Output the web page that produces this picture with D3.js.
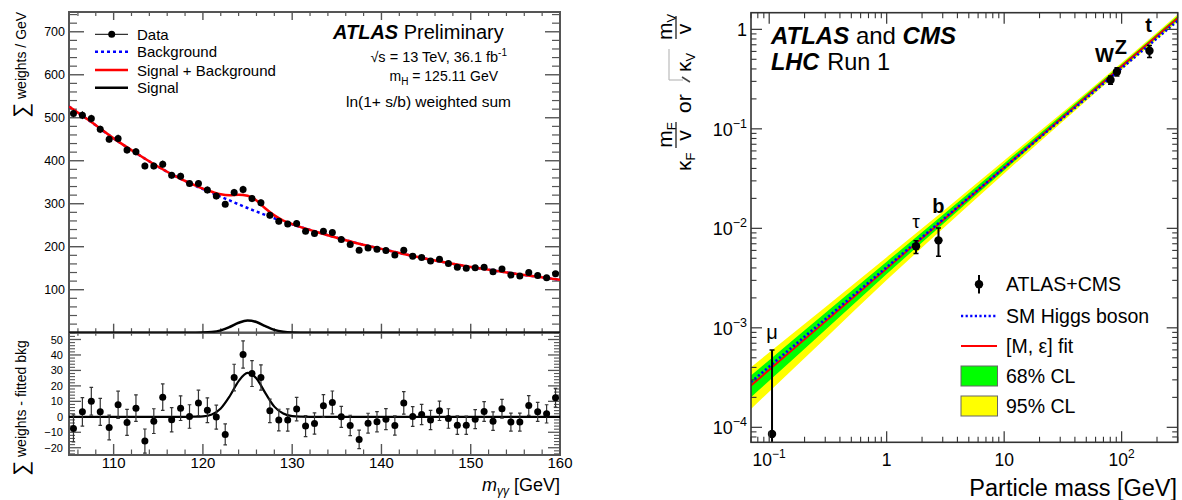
<!DOCTYPE html>
<html>
<head>
<meta charset="utf-8">
<script src="https://cdn.jsdelivr.net/npm/d3@7"></script>
<style>
  html, body { margin: 0; padding: 0; background: #fff; }
  svg text { font-family: "Liberation Sans", Arial, Helvetica, sans-serif; fill: #000; }
</style>
</head>
<body>
<svg id="chart" width="1182" height="500"></svg>
<script>
// ---------------- Left: diphoton mass spectrum ----------------
const binCenters = [105.5,106.5,107.5,108.5,109.5,110.5,111.5,112.5,113.5,114.5,
  115.5,116.5,117.5,118.5,119.5,120.5,121.5,122.5,123.5,124.5,
  125.5,126.5,127.5,128.5,129.5,130.5,131.5,132.5,133.5,134.5,
  135.5,136.5,137.5,138.5,139.5,140.5,141.5,142.5,143.5,144.5,
  145.5,146.5,147.5,148.5,149.5,150.5,151.5,152.5,153.5,154.5,
  155.5,156.5,157.5,158.5,159.5];
const dataWeights = [510,506,498,473,450,452,425,421,388,388,
  392,366,364,347,347,332,318,299,326,333,
  312,302,273,259,253,254,236,231,236,233,
  217,205,192,197,194,191,181,192,178,175,
  167,171,161,152,150,151,152,142,148,134,
  132,140,133,128,137];
const residuals = [-7.5,3.2,10.1,3.2,-6.9,7.8,-3.6,5.6,-15.7,-2.8,
  12.7,-1.9,5.6,0.2,9.0,4.3,-0.2,-11.4,25.4,40.3,
  28.0,25.4,3.9,-2.1,-2.1,5.0,-6.0,-4.3,7.1,9.3,
  0.0,-5.6,-14.6,-4.1,-3.2,-1.5,-5.6,9.0,0.2,1.5,
  -2.1,3.9,-1.1,-5.4,-5.4,-1.5,3.4,-2.8,5.2,-3.4,
  -3.4,7.3,3.2,1.9,12.3];
const residualErrors = [8.8,9.2,9.0,8.7,8.0,8.8,8.4,8.6,7.8,8.0,
  8.6,7.9,8.0,7.6,8.2,8.0,7.8,6.8,8.6,8.8,
  8.4,8.2,7.6,7.0,7.2,7.6,6.8,6.9,7.3,7.4,
  6.8,6.6,6.0,6.4,6.5,6.8,6.2,7.3,6.4,6.5,
  6.2,6.3,6.3,6.0,5.9,6.1,6.4,6.0,6.1,5.8,
  5.8,6.4,6.2,5.9,6.1];
const bkgMass   = [105,107.5,110,112.5,115,117.5,120,122.5,125,127.5,130,132.5,135,137.5,140,142.5,145,147.5,150,152.5,155,157.5,160];
const bkgValues = [526,490,452,418,386,358,334,312,290,270,252,236,221,207,195,183,172,162,153,145,137,130,123];
const sbMass    = [105,107.5,110,112.5,115,117.5,119,120,121,122,123,124,125,126,127,128,129,130,132.5,135,137.5,140,142.5,145,147.5,150,152.5,155,157.5,160];
const sbValues  = [526,490,452,418,386,358,344,335,328,322,320,321,318.5,307.5,289,273,261,252.5,236,221,207,195,183,172,162,153,145,137,130,123];
const sigMass   = [105,118,119,120,121,122,123,124,125,126,127,128,129,130,131,132,160];
const sigValues = [0,0,0.1,0.3,1.5,5.4,13.3,23.1,28.4,24.8,15.3,6.6,2.1,0.45,0.1,0,0];
const mainYTicks = [100,200,300,400,500,600,700];
const resYTicks  = [-20,-10,0,10,20,30,40,50];
const massTicks  = [110,120,130,140,150,160];
const legendLabels = ["Data","Background","Signal + Background","Signal"];

// ---------------- Right: coupling vs particle mass ----------------
const particles      = ["μ","τ","b","W","Z","t"];
const particleMass   = [0.1057,1.777,2.76,80.4,91.19,172.5];
const couplingValue  = [8.57e-5,6.6e-3,7.57e-3,0.31,0.375,0.61];
const couplingLow    = [1e-5,5.57e-3,5.24e-3,0.28,0.34,0.52];
const couplingHigh   = [6.0e-4,7.52e-3,1.01e-2,0.34,0.41,0.69];
const smMass   = [0.07,300];
const smValues = [2.85e-4,1.22];
const bandMass   = [0.07,0.3,1,3,10,30,100,300];
const fitValues  = [2.63e-4,1.156e-3,3.94e-3,1.20e-2,4.09e-2,0.125,0.426,1.30];
const band95Low  = [1.53e-4,7.82e-4,3.02e-3,9.89e-3,3.56e-2,0.1127,0.393,1.20];
const band95High = [4.02e-4,1.61e-3,5.13e-3,1.48e-2,4.81e-2,0.140,0.461,1.41];
const band68Low  = [2.01e-4,9.51e-4,3.47e-3,1.10e-2,3.82e-2,0.1189,0.406,1.24];
const band68High = [3.32e-4,1.41e-3,4.62e-3,1.36e-2,4.49e-2,0.134,0.446,1.36];
const massLogTicks = [[0.1,"10","−1"],[1,"1",""],[10,"10",""],[100,"10","2"]];
const couplingLogTicks = [[1e-4,"10","−4"],[1e-3,"10","−3"],[1e-2,"10","−2"],[1e-1,"10","−1"],[1,"1",""]];
const rightLegendLabels = ["ATLAS+CMS","SM Higgs boson","[M, ε] fit","68% CL","95% CL"];

const svg = d3.select("#chart");
const defs = svg.append("defs");

// ================= left panel =================
const L = {x0: 69, x1: 560, top: 12, mid: 332.7, bot: 455};
const xL = d3.scaleLinear().domain([105, 160]).range([L.x0, L.x1]);
const yMain = d3.scaleLinear().domain([0, 746]).range([L.mid, L.top]);
const yRes = d3.scaleLinear().domain([-24.7, 54.4]).range([L.bot, L.mid]);

defs.append("clipPath").attr("id", "clipMain").append("rect")
  .attr("x", L.x0).attr("y", L.top).attr("width", L.x1 - L.x0).attr("height", L.mid - L.top);
defs.append("clipPath").attr("id", "clipRes").append("rect")
  .attr("x", L.x0).attr("y", L.mid).attr("width", L.x1 - L.x0).attr("height", L.bot - L.mid);

const axisCol = "#555";
const left = svg.append("g");

function tickSet(g, vals, fn, len, col, w) {
  g.selectAll(null).data(vals).enter().append("line")
    .attr("stroke", col).attr("stroke-width", w)
    .each(function (d) { const c = fn(d, len); d3.select(this).attr("x1", c[0]).attr("y1", c[1]).attr("x2", c[2]).attr("y2", c[3]); });
}
const range = (a, b, s) => d3.range(a, b + s / 2, s);

// main panel y ticks (left and right)
const mainMinor = range(20, 740, 20).filter(v => v % 100 !== 0);
tickSet(left, mainYTicks, (v, l) => [L.x0, yMain(v), L.x0 + l, yMain(v)], 15, axisCol, 1.4);
tickSet(left, mainMinor, (v, l) => [L.x0, yMain(v), L.x0 + l, yMain(v)], 8, axisCol, 1.2);
tickSet(left, mainYTicks, (v, l) => [L.x1, yMain(v), L.x1 - l, yMain(v)], 15, axisCol, 1.4);
tickSet(left, mainMinor, (v, l) => [L.x1, yMain(v), L.x1 - l, yMain(v)], 8, axisCol, 1.2);
// residual panel y ticks
const resMinor = range(-24, 54, 2).filter(v => v % 10 !== 0);
tickSet(left, resYTicks, (v, l) => [L.x0, yRes(v), L.x0 + l, yRes(v)], 12, axisCol, 1.3);
tickSet(left, resMinor, (v, l) => [L.x0, yRes(v), L.x0 + l, yRes(v)], 6, axisCol, 1.1);
tickSet(left, resYTicks, (v, l) => [L.x1, yRes(v), L.x1 - l, yRes(v)], 12, axisCol, 1.3);
tickSet(left, resMinor, (v, l) => [L.x1, yRes(v), L.x1 - l, yRes(v)], 6, axisCol, 1.1);
// mass ticks on top, middle and bottom
const massMinor = range(106, 158, 2).filter(v => v % 10 !== 0);
[[L.top, 1, 8, 4], [L.mid, -1, 9, 4.5], [L.mid, 1, 6, 3], [L.bot, -1, 11, 5.5]].forEach(([y0, dir, maj, mn]) => {
  tickSet(left, massTicks, (v, l) => [xL(v), y0, xL(v), y0 + dir * l], maj, axisCol, 1.4);
  tickSet(left, massMinor, (v, l) => [xL(v), y0, xL(v), y0 + dir * l], mn, axisCol, 1.2);
});

// frames
left.append("rect").attr("x", L.x0).attr("y", L.top).attr("width", L.x1 - L.x0).attr("height", L.mid - L.top)
  .attr("fill", "none").attr("stroke", axisCol).attr("stroke-width", 2);
left.append("rect").attr("x", L.x0).attr("y", L.mid).attr("width", L.x1 - L.x0).attr("height", L.bot - L.mid)
  .attr("fill", "none").attr("stroke", axisCol).attr("stroke-width", 2);

// tick labels
left.selectAll(null).data(mainYTicks).enter().append("text")
  .attr("x", 65).attr("y", d => yMain(d) + 4.5).attr("text-anchor", "end")
  .attr("font-size", 12.5).attr("fill", "#222").text(d => d);
left.selectAll(null).data(resYTicks).enter().append("text")
  .attr("x", 63).attr("y", d => yRes(d) + 4).attr("text-anchor", "end")
  .attr("font-size", 11).attr("fill", "#222").text(d => d < 0 ? "−" + (-d) : d);
left.selectAll(null).data(massTicks).enter().append("text")
  .attr("x", d => xL(d)).attr("y", 468).attr("text-anchor", "middle")
  .attr("font-size", 15).attr("fill", "#222").text(d => d);

// x title
const xt = left.append("text").attr("x", 560).attr("y", 491).attr("text-anchor", "end").attr("font-size", 18);
xt.append("tspan").attr("font-style", "italic").text("m");
xt.append("tspan").attr("font-style", "italic").attr("font-size", 12).attr("dy", 4).text("γγ");
xt.append("tspan").attr("dy", -4).text(" [GeV]");

// y titles
function sumTitle(x, y, label) {
  const g = left.append("g").attr("transform", `translate(${x},${y}) rotate(-90)`);
  g.append("text").attr("x", 0).attr("y", 2).attr("font-size", 21).attr("font-family", "DejaVu Sans").text("∑");
  g.append("text").attr("x", 19).attr("y", 0).attr("font-size", 14).attr("fill", "#222").text(label);
}
sumTitle(26, 118, "weights / GeV");
sumTitle(26, 476, "weights - fitted bkg");

// curves
const lineL = (ys) => d3.line().x(d => xL(d[0])).y(d => ys(d[1])).curve(d3.curveMonotoneX);
const mainG = left.append("g").attr("clip-path", "url(#clipMain)");
mainG.append("path").datum(d3.zip(bkgMass, bkgValues)).attr("d", lineL(yMain))
  .attr("fill", "none").attr("stroke", "#0000ff").attr("stroke-width", 2.5).attr("stroke-dasharray", "3,3");
mainG.append("path").datum(d3.zip(sbMass, sbValues)).attr("d", lineL(yMain))
  .attr("fill", "none").attr("stroke", "#ff0000").attr("stroke-width", 2.5);
mainG.append("path").datum(d3.zip(sigMass, sigValues)).attr("d", lineL(yMain))
  .attr("fill", "none").attr("stroke", "#000").attr("stroke-width", 2.5);
mainG.selectAll(null).data(d3.zip(binCenters, dataWeights, residualErrors)).enter().append("line")
  .attr("x1", d => xL(d[0])).attr("x2", d => xL(d[0]))
  .attr("y1", d => yMain(d[1] - d[2])).attr("y2", d => yMain(d[1] + d[2]))
  .attr("stroke", "#000").attr("stroke-width", 1);
mainG.selectAll(null).data(d3.zip(binCenters, dataWeights)).enter().append("circle")
  .attr("cx", d => xL(d[0])).attr("cy", d => yMain(d[1])).attr("r", 3.5).attr("fill", "#000");

const resG = left.append("g").attr("clip-path", "url(#clipRes)");
resG.append("path").datum(d3.zip(sigMass, sigValues)).attr("d", lineL(yRes))
  .attr("fill", "none").attr("stroke", "#000").attr("stroke-width", 2.2);
const resData = d3.zip(binCenters, residuals, residualErrors);
resG.selectAll(null).data(resData).enter().append("line")
  .attr("x1", d => xL(d[0])).attr("x2", d => xL(d[0]))
  .attr("y1", d => yRes(d[1] - d[2])).attr("y2", d => yRes(d[1] + d[2]))
  .attr("stroke", "#333").attr("stroke-width", 1.2);
[-1, 1].forEach(s => {
  resG.selectAll(null).data(resData).enter().append("line")
    .attr("x1", d => xL(d[0]) - 1.8).attr("x2", d => xL(d[0]) + 1.8)
    .attr("y1", d => yRes(d[1] + s * d[2])).attr("y2", d => yRes(d[1] + s * d[2]))
    .attr("stroke", "#333").attr("stroke-width", 1.2);
});
resG.selectAll(null).data(resData).enter().append("circle")
  .attr("cx", d => xL(d[0])).attr("cy", d => yRes(d[1])).attr("r", 3.5).attr("fill", "#000");

// legend
const legY = [34.3, 51.7, 70, 87.7];
const lg = left.append("g");
lg.append("line").attr("x1", 95).attr("x2", 128).attr("y1", legY[0]).attr("y2", legY[0]).attr("stroke", "#000").attr("stroke-width", 1);
lg.append("circle").attr("cx", 111.7).attr("cy", legY[0]).attr("r", 3.5).attr("fill", "#000");
lg.append("line").attr("x1", 95).attr("x2", 128).attr("y1", legY[1]).attr("y2", legY[1]).attr("stroke", "#0000ff").attr("stroke-width", 2.5).attr("stroke-dasharray", "3,3");
lg.append("line").attr("x1", 95).attr("x2", 128).attr("y1", legY[2]).attr("y2", legY[2]).attr("stroke", "#ff0000").attr("stroke-width", 2.5);
lg.append("line").attr("x1", 95).attr("x2", 128).attr("y1", legY[3]).attr("y2", legY[3]).attr("stroke", "#000").attr("stroke-width", 2.5);
lg.selectAll(null).data(legendLabels).enter().append("text")
  .attr("x", 137).attr("y", (d, i) => legY[i] + 5.5).attr("font-size", 15).text(d => d);

// ATLAS label block
const at = left.append("text").attr("x", 333).attr("y", 39).attr("font-size", 20);
at.append("tspan").attr("font-weight", "bold").attr("font-style", "italic").text("ATLAS");
at.append("tspan").text(" Preliminary");
const rs = left.append("text").attr("x", 507).attr("y", 62).attr("text-anchor", "end").attr("font-size", 14.5);
rs.append("tspan").text("√s = 13 TeV, 36.1 fb");
rs.append("tspan").attr("font-size", 10).attr("dy", -6).text("-1");
const mh = left.append("text").attr("x", 498).attr("y", 81).attr("text-anchor", "end").attr("font-size", 14);
mh.append("tspan").text("m");
mh.append("tspan").attr("font-size", 10).attr("dy", 4).text("H");
mh.append("tspan").attr("dy", -4).text(" = 125.11 GeV");
left.append("text").attr("x", 511).attr("y", 107).attr("text-anchor", "end").attr("font-size", 15.5)
  .text("ln(1+ s/b) weighted sum");

// ================= right panel =================
const R = {x0: 751, x1: 1177.7, y0: 12.7, y1: 442.3};
const xR = d3.scaleLog().domain([0.07, 300]).range([R.x0, R.x1]);
const yR = d3.scaleLog().domain([7.07e-5, 1.47]).range([R.y1, R.y0]);
defs.append("clipPath").attr("id", "clipR").append("rect")
  .attr("x", R.x0).attr("y", R.y0).attr("width", R.x1 - R.x0).attr("height", R.y1 - R.y0);
const right = svg.append("g");
const plotR = right.append("g").attr("clip-path", "url(#clipR)");

const idx = d3.range(bandMass.length);
const bandArea = (lo, hi) => d3.area().x(i => xR(bandMass[i])).y0(i => yR(lo[i])).y1(i => yR(hi[i])).curve(d3.curveMonotoneX);
plotR.append("path").datum(idx).attr("d", bandArea(band95Low, band95High)).attr("fill", "#ffff00");
plotR.append("path").datum(idx).attr("d", bandArea(band68Low, band68High)).attr("fill", "#00ff00");
plotR.append("path").datum(idx).attr("d", d3.line().x(i => xR(bandMass[i])).y(i => yR(fitValues[i])).curve(d3.curveMonotoneX))
  .attr("fill", "none").attr("stroke", "#ff0000").attr("stroke-width", 1.8);
plotR.append("path").datum(d3.zip(smMass, smValues)).attr("d", d3.line().x(d => xR(d[0])).y(d => yR(d[1])))
  .attr("fill", "none").attr("stroke", "#0000ff").attr("stroke-width", 2.6).attr("stroke-dasharray", "2.2,2.4");

// measured points
const pts = d3.range(particles.length).map(i => ({
  name: particles[i], m: particleMass[i], v: couplingValue[i], lo: couplingLow[i], hi: couplingHigh[i]
}));
plotR.selectAll(null).data(pts).enter().append("line")
  .attr("x1", d => xR(d.m)).attr("x2", d => xR(d.m)).attr("y1", d => yR(d.lo)).attr("y2", d => yR(d.hi))
  .attr("stroke", "#000").attr("stroke-width", 2);
["lo", "hi"].forEach(k => {
  plotR.selectAll(null).data(pts).enter().append("line")
    .attr("x1", d => xR(d.m) - 2.5).attr("x2", d => xR(d.m) + 2.5).attr("y1", d => yR(d[k])).attr("y2", d => yR(d[k]))
    .attr("stroke", "#000").attr("stroke-width", 1.5);
});
plotR.selectAll(null).data(pts).enter().append("circle")
  .attr("cx", d => xR(d.m)).attr("cy", d => yR(d.v)).attr("r", 4.2).attr("fill", "#000");

// particle labels
const labelStyle = {
  "μ": {dx: 0, anchor: "hi", dy: -11, bold: false, size: 20},
  "τ": {dx: 0, anchor: "hi", dy: -13, bold: false, size: 19},
  "b": {dx: 0, anchor: "hi", dy: -15, bold: true, size: 20},
  "W": {dx: -6, anchor: "v", dy: -18, bold: true, size: 20},
  "Z": {dx: 4, anchor: "v", dy: -18, bold: true, size: 20},
  "t": {dx: -1, anchor: "hi", dy: -13, bold: true, size: 20}
};
right.selectAll(null).data(pts).enter().append("text")
  .attr("x", d => xR(d.m) + labelStyle[d.name].dx)
  .attr("y", d => yR(d[labelStyle[d.name].anchor]) + labelStyle[d.name].dy)
  .attr("text-anchor", "middle")
  .attr("font-size", d => labelStyle[d.name].size)
  .attr("font-weight", d => labelStyle[d.name].bold ? "bold" : "normal")
  .text(d => d.name);

// log ticks
const rc = "#333";
const logMinor = (lo, hi) => {
  const out = [];
  for (let e = Math.floor(Math.log10(lo)); e <= Math.ceil(Math.log10(hi)); e++)
    for (let k = 2; k <= 9; k++) { const v = k * Math.pow(10, e); if (v >= lo * 0.999 && v <= hi) out.push(v); }
  return out;
};
const xMaj = massLogTicks.map(d => d[0]);
const yMaj = couplingLogTicks.map(d => d[0]);
const xMin = logMinor(0.07, 300), yMin = logMinor(7.07e-5, 1.47);
tickSet(right, xMaj, (v, l) => [xR(v), R.y1, xR(v), R.y1 - l], 11, rc, 1.2);
tickSet(right, xMin, (v, l) => [xR(v), R.y1, xR(v), R.y1 - l], 5.5, rc, 1.1);
tickSet(right, xMaj, (v, l) => [xR(v), R.y0, xR(v), R.y0 + l], 11, rc, 1.2);
tickSet(right, xMin, (v, l) => [xR(v), R.y0, xR(v), R.y0 + l], 5.5, rc, 1.1);
tickSet(right, yMaj, (v, l) => [R.x0, yR(v), R.x0 + l, yR(v)], 11, rc, 1.2);
tickSet(right, yMin, (v, l) => [R.x0, yR(v), R.x0 + l, yR(v)], 5.5, rc, 1.1);
tickSet(right, yMaj, (v, l) => [R.x1, yR(v), R.x1 - l, yR(v)], 11, rc, 1.2);
tickSet(right, yMin, (v, l) => [R.x1, yR(v), R.x1 - l, yR(v)], 5.5, rc, 1.1);
right.append("rect").attr("x", R.x0).attr("y", R.y0).attr("width", R.x1 - R.x0).attr("height", R.y1 - R.y0)
  .attr("fill", "none").attr("stroke", rc).attr("stroke-width", 1.6);

// tick labels
massLogTicks.forEach(([v, base, sup]) => {
  const t = right.append("text").attr("x", xR(v)).attr("y", 466).attr("text-anchor", "middle").attr("font-size", 17.5).attr("fill", "#222");
  t.append("tspan").text(base);
  if (sup) t.append("tspan").attr("font-size", 12).attr("dy", -8).text(sup);
});
couplingLogTicks.forEach(([v, base, sup]) => {
  const t = right.append("text").attr("x", 747).attr("y", yR(v) + 7).attr("text-anchor", "end").attr("font-size", 18).attr("fill", "#222");
  t.append("tspan").text(base);
  if (sup) t.append("tspan").attr("font-size", 12.5).attr("dy", -8).text(sup);
});
right.append("text").attr("x", 1177).attr("y", 496).attr("text-anchor", "end").attr("font-size", 23.5).attr("fill", "#222")
  .text("Particle mass [GeV]");

// y title: κF mF/v  or  √κV mV/v (rotated)
const yt = right.append("g").attr("transform", "translate(691,172) rotate(-90)").attr("fill", "#222");
const fs = 21;
function sym(u, w, main, sub, anchor) {
  const t = yt.append("text").attr("x", u).attr("y", w).attr("font-size", fs).attr("text-anchor", anchor || "start");
  t.append("tspan").text(main);
  if (sub) t.append("tspan").attr("font-size", 13).attr("dy", 4).text(sub);
  return t;
}
sym(1, 0, "κ", "F");
sym(37, -19, "m", "F", "middle");
yt.append("line").attr("x1", 24).attr("x2", 50).attr("y1", -15).attr("y2", -15).attr("stroke", "#222").attr("stroke-width", 1.3);
sym(36.5, 0, "v", null, "middle");
sym(59, 0, "or", null);
yt.append("path").attr("d", "M92,-22 L123,-22").attr("stroke", "#bbb").attr("stroke-width", 1.2).attr("fill", "none");
yt.append("path").attr("d", "M92,-22 L92,-8").attr("stroke", "#bbb").attr("stroke-width", 1.2).attr("fill", "none");
yt.append("path").attr("d", "M95,-9 L90,-1").attr("stroke", "#444").attr("stroke-width", 1.5).attr("fill", "none");
sym(100, 0, "κ", "V");
sym(145, -19, "m", "V", "middle");
yt.append("line").attr("x1", 133).attr("x2", 156).attr("y1", -15).attr("y2", -15).attr("stroke", "#222").attr("stroke-width", 1.3);
sym(143, 0, "v", null, "middle");

// experiment label
const ex = right.append("text").attr("x", 771).attr("y", 44).attr("font-size", 24);
ex.append("tspan").attr("font-weight", "bold").attr("font-style", "italic").text("ATLAS");
ex.append("tspan").text(" and ");
ex.append("tspan").attr("font-weight", "bold").attr("font-style", "italic").text("CMS");
const lhc = right.append("text").attr("x", 771).attr("y", 70).attr("font-size", 23.5);
lhc.append("tspan").attr("font-weight", "bold").attr("font-style", "italic").text("LHC");
lhc.append("tspan").attr("dx", 8).text("Run 1");

// legend
const rl = right.append("g");
const rlY = [284.3, 316, 346, 376, 406];
rl.append("line").attr("x1", 979).attr("x2", 979).attr("y1", 275).attr("y2", 293.5).attr("stroke", "#000").attr("stroke-width", 2);
rl.append("circle").attr("cx", 979).attr("cy", rlY[0]).attr("r", 4.2).attr("fill", "#000");
rl.append("line").attr("x1", 961).attr("x2", 997).attr("y1", rlY[1]).attr("y2", rlY[1]).attr("stroke", "#0000ff").attr("stroke-width", 2.6).attr("stroke-dasharray", "2.2,2.4");
rl.append("line").attr("x1", 961).attr("x2", 997).attr("y1", rlY[2]).attr("y2", rlY[2]).attr("stroke", "#ff0000").attr("stroke-width", 1.8);
rl.append("rect").attr("x", 961).attr("y", 366).attr("width", 36.5).attr("height", 20).attr("fill", "#00ff00").attr("stroke", "#666").attr("stroke-width", 1);
rl.append("rect").attr("x", 961).attr("y", 396).attr("width", 36.5).attr("height", 20).attr("fill", "#ffff00").attr("stroke", "#666").attr("stroke-width", 1);
rl.selectAll(null).data(rightLegendLabels).enter().append("text")
  .attr("x", 1006).attr("y", (d, i) => rlY[i] + 7).attr("font-size", 19.5).attr("fill", "#222").text(d => d);
</script>
</body>
</html>
